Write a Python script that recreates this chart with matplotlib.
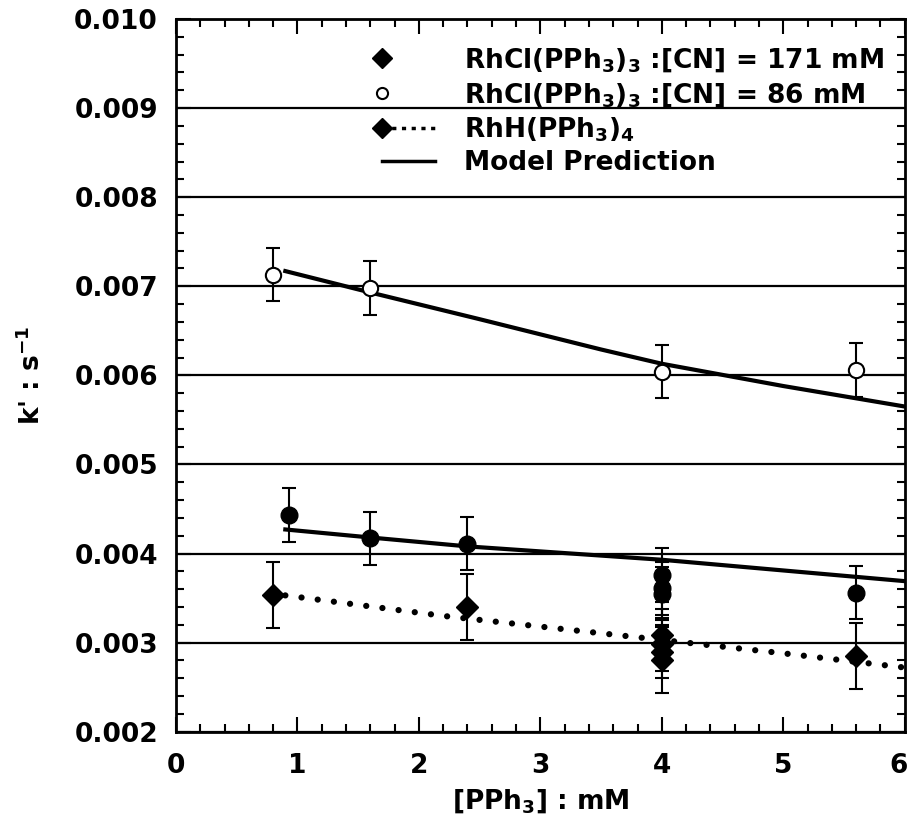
import numpy as np
import matplotlib
matplotlib.use("Agg")
import matplotlib.pyplot as plt
from matplotlib.ticker import MultipleLocator, FormatStrFormatter
from matplotlib.legend_handler import HandlerLine2D
from matplotlib.lines import Line2D
from matplotlib.transforms import ScaledTranslation

plt.rcParams['font.family'] = ['DejaVu Sans']
plt.rcParams['font.weight'] = 'bold'
plt.rcParams['axes.labelweight'] = 'bold'
plt.rcParams['mathtext.fontset'] = 'dejavusans'
plt.rcParams['mathtext.default'] = 'bf'

# RhCl(PPh3)3, [CN] = 86 mM (open circles)
x86 = [0.8, 1.6, 4.0, 5.6]
y86 = [0.00713, 0.00698, 0.00604, 0.00606]
e86 = [0.0003, 0.0003, 0.0003, 0.0003]

# RhCl(PPh3)3, [CN] = 171 mM (filled circles)
x171 = [0.93, 1.6, 2.4, 4.0, 4.0, 4.0, 5.6]
y171 = [0.00443, 0.00417, 0.00411, 0.00376, 0.00361, 0.00355, 0.00356]
e171 = [0.0003, 0.0003, 0.0003, 0.0003, 0.0003, 0.0003, 0.0003]

# RhH(PPh3)4 (diamonds)
xrh = [0.8, 2.4, 4.0, 4.0, 4.0, 4.0, 5.6]
yrh = [0.00353, 0.00340, 0.00308, 0.00298, 0.00290, 0.00281, 0.00285]
erh = [0.00037, 0.00037, 0.0003, 0.0003, 0.0003, 0.00037, 0.00037]

# model predictions
xm86 = [0.9, 1.6, 2.5, 3.5, 4.0, 5.0, 6.0]
ym86 = [0.00717, 0.00693, 0.00663, 0.00629, 0.00613, 0.00588, 0.00565]
xm171 = [0.9, 1.6, 2.4, 4.0, 6.0]
ym171 = [0.00427, 0.00418, 0.00408, 0.00393, 0.00369]
xmrh = [0.9, 2.2, 3.0, 4.0, 5.0, 6.0]
ymrh = [0.00353, 0.00330, 0.00318, 0.00303, 0.00288, 0.00272]

labels = ['RhCl(PPh$_3$)$_3$ :[CN] = 171 mM',
          'RhCl(PPh$_3$)$_3$ :[CN] = 86 mM',
          'RhH(PPh$_3$)$_4$',
          'Model Prediction']


class LeftMarker(HandlerLine2D):
    # legend marker sits at the left end of the handle, not the middle
    def create_artists(self, legend, orig_handle, xdescent, ydescent,
                       width, height, fontsize, trans):
        arts = super().create_artists(legend, orig_handle, xdescent, ydescent,
                                      width, height, fontsize, trans)
        arts[0].set_markevery([0])
        return arts


fig = plt.figure(figsize=(9.12, 8.24), dpi=100)
ax = fig.add_axes([0.193, 0.112, 0.799, 0.865])

ax.yaxis.grid(True, which='major', color='black', lw=1.6)
ax.set_axisbelow(True)

ebkw = dict(ecolor='black', elinewidth=1.5, capsize=5, capthick=1.5, ls='none')
ax.errorbar(x86, y86, yerr=e86, fmt='o', mfc='white', mec='black', mew=1.5, ms=11, **ebkw)
ax.errorbar(x171, y171, yerr=e171, fmt='o', color='black', ms=12, **ebkw)
ax.errorbar(xrh, yrh, yerr=erh, fmt='D', color='black', ms=11, **ebkw)

ax.plot(xm86, ym86, color='black', lw=3)
ax.plot(xm171, ym171, color='black', lw=3)
ax.plot(xmrh, ymrh, color='black', lw=4.5, ls=(0, (0.01, 2.6)), dash_capstyle='round')

h1 = Line2D([], [], marker='D', ls='none', color='black', ms=10)
h2 = Line2D([], [], marker='o', ls='none', mfc='white', mec='black', mew=1.5, ms=8)
h3 = Line2D([], [], marker='D', color='black', ms=10, ls=(0, (1.2, 1.6)), lw=2.5)
h4 = Line2D([], [], color='black', lw=2.5)
leg = fig.legend([h1, h2, h3, h4], labels, loc='upper left',
                 bbox_to_anchor=(0.419, 0.944), frameon=False, fontsize=19,
                 handlelength=2.0, handletextpad=1.1, labelspacing=0.25,
                 borderpad=0, borderaxespad=0,
                 handler_map={Line2D: LeftMarker()})

ax.set_xlim(0, 6)
ax.set_ylim(0.002, 0.010)
ax.set_xticks(range(7))
ax.xaxis.set_minor_locator(MultipleLocator(0.2))
ax.yaxis.set_major_locator(MultipleLocator(0.001))
ax.yaxis.set_minor_locator(MultipleLocator(0.0002))
ax.yaxis.set_major_formatter(FormatStrFormatter('%.3f'))
ax.tick_params(which='both', direction='in', top=True, right=True, width=1.5,
               labelsize=19)
ax.tick_params(which='major', length=11)
ax.tick_params(which='minor', length=6)
ax.tick_params(axis='x', which='major', pad=15)
ax.tick_params(axis='y', which='major', pad=13)
for s in ax.spines.values():
    s.set_linewidth(2)

# nudge the last x label so it stays inside the image
last = ax.get_xticklabels()[-1]
last.set_transform(last.get_transform() + ScaledTranslation(-6 / 100, 0, fig.dpi_scale_trans))

ax.set_xlabel('[PPh$_3$] : mM', fontsize=19, labelpad=6)
ax.set_ylabel("k' : s$^{-1}$", fontsize=19, labelpad=20)

fig.savefig('out.png', dpi=100)
